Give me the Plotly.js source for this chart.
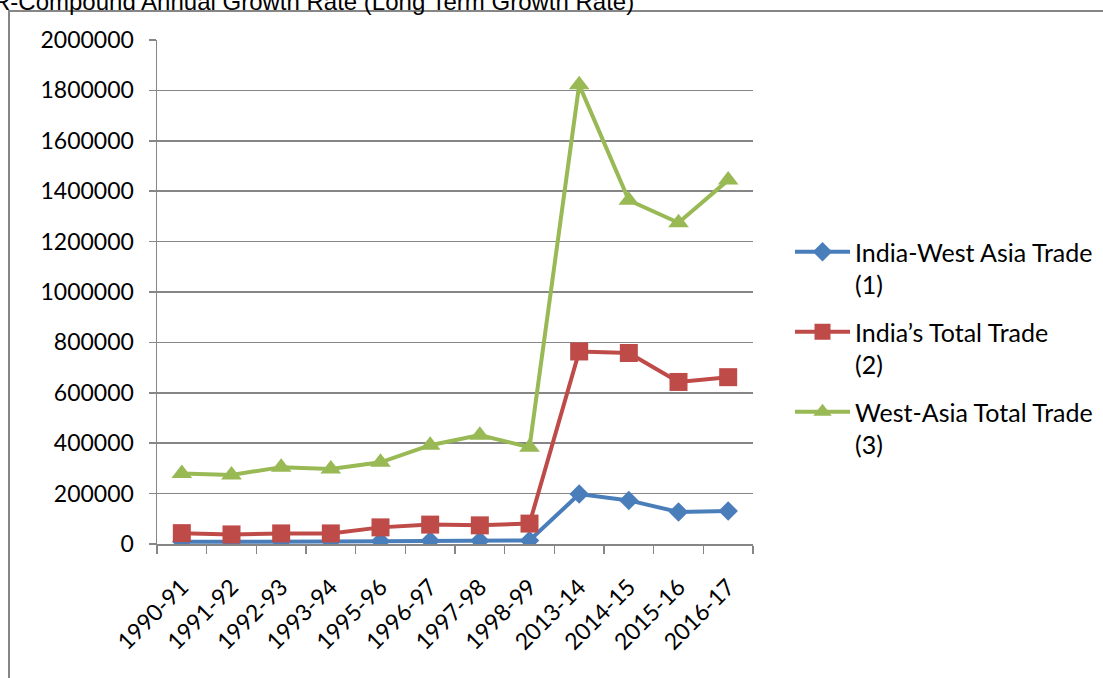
<!DOCTYPE html>
<html>
<head>
<meta charset="utf-8">
<script src="https://cdn.plot.ly/plotly-3.0.1.min.js"></script>
<style>
html,body{margin:0;padding:0;background:#fff;}
#chart{width:1103px;height:678px;}
</style>
</head>
<body>
<div id="chart"></div>
<script>
var categories = ["1990-91","1991-92","1992-93","1993-94","1995-96","1996-97","1997-98","1998-99","2013-14","2014-15","2015-16","2016-17"];
var indiaWestAsia = [9000, 8000, 9000, 9500, 11000, 12500, 13000, 14000, 198000, 173000, 127000, 131000];
var indiaTotal = [43000, 38000, 42000, 42000, 66000, 77000, 74000, 81000, 764000, 758000, 643000, 662000];
var westAsiaTotal = [280000, 274000, 305000, 298000, 324000, 392000, 432000, 384000, 1822000, 1364000, 1275000, 1444000];
var seriesNames = ["India-West Asia Trade<br>(1)", "India\u2019s Total Trade<br>(2)", "West-Asia Total Trade<br>(3)"];
var titleText = "R-Compound Annual Growth Rate (Long Term Growth Rate)";

var L = 157, R = 350, T = 40, B = 134, W = 1103, H = 678;
var pw = W - L - R, ph = H - T - B;
function px(x){ return (x - L) / pw; }
function py(y){ return (H - B - y) / ph; }

var gray = "#868686";
var fontFam = "Lato, 'Noto Sans', sans-serif";

var traces = [
  {x: categories, y: indiaWestAsia, name: seriesNames[0], legendgroup: "a", type: "scatter", mode: "lines+markers",
   line: {color: "#4A7EBB", width: 4}, marker: {symbol: "diamond", size: 15, color: "#4A7EBB"}},
  {x: categories, y: indiaTotal, name: seriesNames[1], legendgroup: "b", type: "scatter", mode: "lines+markers",
   line: {color: "#BE4B48", width: 4}, marker: {symbol: "square", size: 18, color: "#BE4B48"}},
  {x: categories, y: westAsiaTotal, name: seriesNames[2], legendgroup: "c", type: "scatter", mode: "lines+markers",
   line: {color: "#98B954", width: 4}, marker: {symbol: "triangle-up", size: 18, color: "#98B954"}}
];

var layout = {
  width: W, height: H,
  margin: {l: L, r: R, t: T, b: B, autoexpand: false},
  paper_bgcolor: "#ffffff", plot_bgcolor: "#ffffff",
  font: {family: fontFam, size: 23, color: "#000"},
  showlegend: true,
  legend: {x: px(790), y: py(229), xanchor: "left", yanchor: "top", valign: "top",
           font: {family: fontFam, size: 25, color: "#000"}, itemwidth: 55,
           bgcolor: "rgba(0,0,0,0)", tracegroupgap: 12},
  xaxis: {type: "category", range: [-0.5, 11.5], tickson: "boundaries", ticks: "outside", ticklen: 8,
          tickcolor: gray, tickwidth: 1.5, showline: true, linecolor: gray, linewidth: 1.5,
          showgrid: false, zeroline: false, tickangle: -45, ticklabelstandoff: 19, automargin: false,
          tickfont: {family: fontFam, size: 23, color: "#000"}},
  yaxis: {range: [0, 2000000], dtick: 200000, tick0: 0, ticks: "outside", ticklen: 7, tickcolor: gray, tickwidth: 1.5,
          showline: true, linecolor: gray, linewidth: 1.5, showgrid: true, gridcolor: gray, gridwidth: 1.5,
          zeroline: false, tickformat: "d", ticklabelstandoff: 10, automargin: false,
          tickfont: {family: fontFam, size: 23, color: "#000"}},
  shapes: [
    {type: "rect", xref: "paper", yref: "paper", x0: px(9), x1: px(1115), y0: py(700), y1: py(11),
     line: {color: gray, width: 2}, fillcolor: "rgba(0,0,0,0)", layer: "below"}
  ],
  annotations: [
    {text: titleText, xref: "paper", yref: "paper", x: px(-9), y: py(17), xanchor: "left", yanchor: "bottom",
     showarrow: false, font: {family: "'Liberation Sans', Arial, sans-serif", size: 24, color: "#000"}}
  ]
};

Plotly.newPlot("chart", traces, layout, {displayModeBar: false, staticPlot: true});
</script>
</body>
</html>
